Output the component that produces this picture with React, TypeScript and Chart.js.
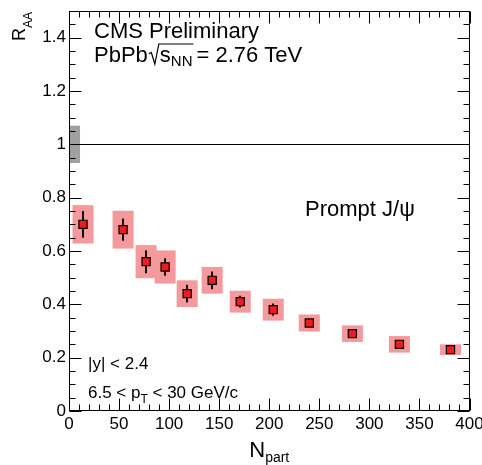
import React, { useEffect, useRef } from 'react';
import { Chart, registerables } from 'chart.js';
Chart.register(...registerables);

// ---- data ----
const npart = [14, 54, 77, 96, 118, 143, 171, 204, 240, 283, 330, 381];
const raa = [0.70, 0.68, 0.56, 0.54, 0.44, 0.49, 0.41, 0.38, 0.33, 0.29, 0.25, 0.23];
const statErr = [0.05, 0.042, 0.043, 0.033, 0.033, 0.033, 0.022, 0.023, 0.008, 0.008, 0.008, 0.006];
const systErr = [0.072, 0.071, 0.062, 0.062, 0.05, 0.05, 0.041, 0.041, 0.032, 0.031, 0.031, 0.02];
const systHalfWidth = [10.5, 10.5, 10.5, 10.5, 10.5, 10.5, 10.5, 10.5, 10.5, 10.5, 10.5, 10.5];
const globalBoxX = [0, 11];
const globalUnc = 0.07;
const unityLine = 1;
const xTickValues = [0, 50, 100, 150, 200, 250, 300, 350, 400];
const yTickValues = [0, 0.2, 0.4, 0.6, 0.8, 1.0, 1.2, 1.4];

const FONT = "'Liberation Sans', Arial, Helvetica, sans-serif";

function drawParts(ctx: CanvasRenderingContext2D, x: number, y: number, parts: { t: string; size: number; dy?: number }[]) {
  let cx = x;
  for (const p of parts) {
    ctx.font = `${p.size}px ${FONT}`;
    ctx.fillText(p.t, cx, y + (p.dy || 0));
    cx += ctx.measureText(p.t).width;
  }
  return cx;
}

const framePlugin = {
  id: 'rootFrame',
  beforeDatasetsDraw(chart: any) {
    const { ctx, chartArea } = chart;
    const xs = chart.scales.x;
    const ys = chart.scales.y;
    ctx.save();
    ctx.beginPath();
    ctx.rect(chartArea.left, chartArea.top, chartArea.right - chartArea.left, chartArea.bottom - chartArea.top);
    ctx.clip();
    // global uncertainty box
    ctx.fillStyle = '#a0a0a0';
    {
      const x0 = xs.getPixelForValue(globalBoxX[0]);
      const x1 = xs.getPixelForValue(globalBoxX[1]);
      const y0 = ys.getPixelForValue(unityLine + globalUnc);
      const y1 = ys.getPixelForValue(unityLine - globalUnc);
      ctx.fillRect(x0, y0, x1 - x0, y1 - y0);
    }
    // unity line
    ctx.strokeStyle = '#000';
    ctx.lineWidth = 1;
    ctx.beginPath();
    const uy = Math.round(ys.getPixelForValue(unityLine)) + 0.5;
    ctx.moveTo(xs.getPixelForValue(xs.min), uy);
    ctx.lineTo(xs.getPixelForValue(xs.max), uy);
    ctx.stroke();
    // systematic boxes
    ctx.fillStyle = '#f59a9c';
    for (let i = 0; i < npart.length; i++) {
      const x0 = xs.getPixelForValue(npart[i] - systHalfWidth[i]);
      const x1 = xs.getPixelForValue(npart[i] + systHalfWidth[i]);
      const y0 = ys.getPixelForValue(raa[i] + systErr[i]);
      const y1 = ys.getPixelForValue(raa[i] - systErr[i]);
      ctx.fillRect(x0, y0, x1 - x0, y1 - y0);
    }
    // stat error bars
    ctx.strokeStyle = '#111';
    ctx.lineWidth = 2;
    for (let i = 0; i < npart.length; i++) {
      const px = Math.round(xs.getPixelForValue(npart[i]));
      ctx.beginPath();
      ctx.moveTo(px, ys.getPixelForValue(raa[i] + statErr[i]));
      ctx.lineTo(px, ys.getPixelForValue(raa[i] - statErr[i]));
      ctx.stroke();
    }
    ctx.restore();
  },
  afterDatasetsDraw(chart: any) {
    const { ctx, chartArea } = chart;
    const xs = chart.scales.x;
    const ys = chart.scales.y;
    const L = Math.round(chartArea.left) + 0.5;
    const R = Math.round(chartArea.right) - 0.5;
    const T = Math.round(chartArea.top) + 0.5;
    const B = Math.round(chartArea.bottom) - 0.5;
    ctx.save();
    ctx.strokeStyle = '#000';
    ctx.lineWidth = 1;
    ctx.strokeRect(L, T, R - L, B - T);
    ctx.beginPath();
    // y ticks
    for (let k = 0; k <= 30; k++) {
      const v = k * 0.05;
      const major = k % 4 === 0;
      const len = major ? 12 : 6;
      const py = Math.round(ys.getPixelForValue(v)) + 0.5;
      ctx.moveTo(L, py); ctx.lineTo(L + len, py);
      ctx.moveTo(R, py); ctx.lineTo(R - len, py);
    }
    // x ticks
    for (let k = 0; k <= 40; k++) {
      const v = k * 10;
      const major = k % 5 === 0;
      const len = major ? 12 : 6;
      const px = Math.round(xs.getPixelForValue(v)) + 0.5;
      ctx.moveTo(px, B); ctx.lineTo(px, B - len);
      ctx.moveTo(px, T); ctx.lineTo(px, T + len);
    }
    ctx.stroke();
    ctx.restore();
  },
  afterDraw(chart: any) {
    const { ctx, chartArea } = chart;
    ctx.save();
    ctx.fillStyle = '#000';
    ctx.textBaseline = 'alphabetic';
    ctx.textAlign = 'left';
    // CMS Preliminary
    drawParts(ctx, 94, 38, [{ t: 'CMS Preliminary', size: 22 }]);
    // PbPb sqrt(sNN) = 2.76 TeV
    let cx = drawParts(ctx, 94, 62, [{ t: 'PbPb', size: 22 }]);
    const sqrtStart = cx + 1;
    ctx.font = `22px ${FONT}`;
    const sW = ctx.measureText('s').width;
    ctx.font = `15px ${FONT}`;
    const nnW = ctx.measureText('NN').width;
    const rootX = sqrtStart + 11;
    ctx.strokeStyle = '#000';
    ctx.lineWidth = 1.2;
    ctx.beginPath();
    ctx.moveTo(sqrtStart, 54);
    ctx.lineTo(sqrtStart + 2.5, 52.5);
    ctx.lineTo(sqrtStart + 6, 64);
    ctx.lineTo(sqrtStart + 10, 44);
    ctx.lineTo(rootX + sW + nnW + 1, 44);
    ctx.stroke();
    cx = drawParts(ctx, rootX, 62, [{ t: 's', size: 22 }, { t: 'NN', size: 15, dy: 4 }]);
    drawParts(ctx, cx + 4, 62, [{ t: '= 2.76 TeV', size: 22 }]);
    // Prompt J/psi
    drawParts(ctx, 305, 216, [{ t: 'Prompt J/\u03C8', size: 22 }]);
    // cuts
    drawParts(ctx, 88, 369, [{ t: '|y| < 2.4', size: 17 }]);
    drawParts(ctx, 88, 398, [{ t: '6.5 < p', size: 17 }, { t: 'T', size: 12, dy: 5 }, { t: ' < 30 GeV/c', size: 17 }]);
    // x title
    ctx.font = `22px ${FONT}`;
    const nW = ctx.measureText('N').width;
    ctx.font = `14px ${FONT}`;
    const pW = ctx.measureText('part').width;
    const cxm = (chartArea.left + chartArea.right) / 2;
    drawParts(ctx, cxm - (nW + pW) / 2, 457, [{ t: 'N', size: 22 }, { t: 'part', size: 14, dy: 5 }]);
    // y title (rotated)
    ctx.translate(25, chartArea.top);
    ctx.rotate(-Math.PI / 2);
    ctx.font = `18px ${FONT}`;
    const rW = ctx.measureText('R').width;
    ctx.font = `12px ${FONT}`;
    const aW = ctx.measureText('AA').width;
    drawParts(ctx, -(rW + aW) - 1, 0, [{ t: 'R', size: 18 }, { t: 'AA', size: 12, dy: 7 }]);
    ctx.restore();
  },
};

export default function App() {
  const ref = useRef<HTMLCanvasElement>(null);
  useEffect(() => {
    if (!ref.current) return;
    const chart = new Chart(ref.current, {
      type: 'scatter',
      data: {
        datasets: [
          {
            type: 'scatter',
            data: npart.map((x, i) => ({ x, y: raa[i] })),
            pointStyle: 'rect',
            pointRadius: 5.8,
            pointBackgroundColor: '#ee1c1c',
            pointBorderColor: '#000',
            pointBorderWidth: 1.2,
          },
        ],
      },
      options: {
        animation: false,
        responsive: true,
        maintainAspectRatio: false,
        layout: { padding: { top: 11, right: 12.5, left: 0, bottom: 0 } },
        plugins: { legend: { display: false }, tooltip: { enabled: false }, title: { display: false } },
        scales: {
          x: {
            type: 'linear',
            min: 0,
            max: 400,
            grid: { display: false, drawTicks: false },
            border: { display: false },
            afterBuildTicks: (s: any) => { s.ticks = xTickValues.map((v) => ({ value: v })); },
            afterFit: (s: any) => { s.height = 54; s.paddingLeft = 0; s.paddingRight = 0; },
            ticks: {
              font: { family: FONT, size: 17 },
              color: '#000',
              padding: 3,
              maxRotation: 0,
              autoSkip: false,
              callback: (v: any) => String(v),
            },
          },
          y: {
            type: 'linear',
            min: 0,
            max: 1.5,
            grid: { display: false, drawTicks: false },
            border: { display: false },
            afterBuildTicks: (s: any) => { s.ticks = yTickValues.map((v) => ({ value: v })); },
            afterFit: (s: any) => { s.width = 69; s.paddingTop = 0; s.paddingBottom = 0; },
            ticks: {
              font: { family: FONT, size: 17 },
              color: '#000',
              padding: 3,
              autoSkip: false,
              callback: (v: any) => String(Math.round(v * 10) / 10),
            },
          },
        },
      },
      plugins: [framePlugin],
    });
    return () => chart.destroy();
  }, []);
  return (
    <div style={{ position: 'absolute', left: 0, top: 0, width: 482, height: 465 }}>
      <canvas ref={ref} />
    </div>
  );
}
